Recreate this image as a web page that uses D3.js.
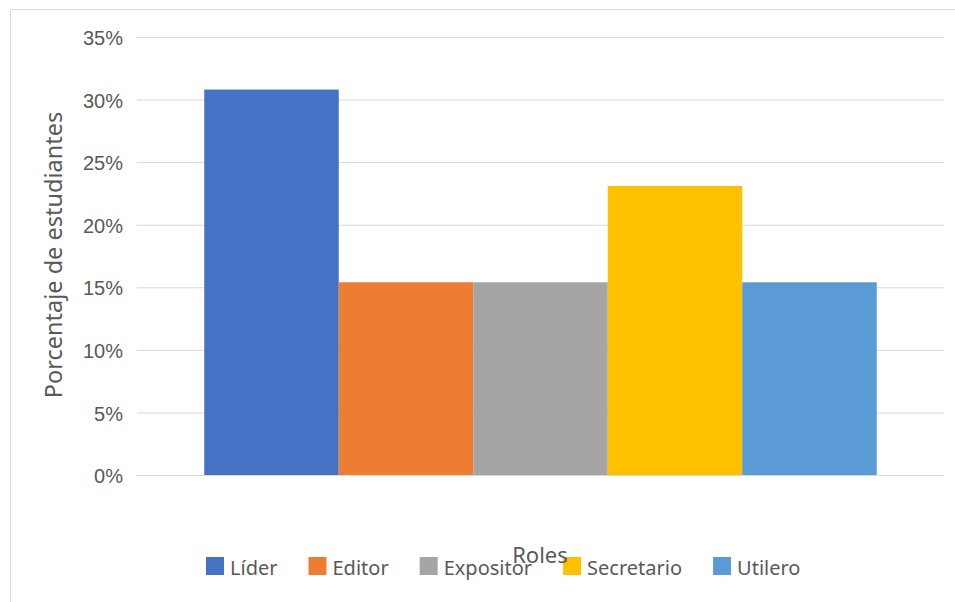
<!DOCTYPE html>
<html>
<head>
<meta charset="utf-8">
<script src="https://cdn.jsdelivr.net/npm/d3@7"></script>
<style>
  html, body { margin: 0; padding: 0; background: #fff; }
  svg { display: block; font-family: "Noto Sans", sans-serif; }
</style>
</head>
<body>
<div class="graph"></div>
<script>
// Data
const roles = ['Líder', 'Editor', 'Expositor', 'Secretario', 'Utilero'];
const shares = [0.308, 0.154, 0.154, 0.231, 0.154];
const tickValues = [0, 0.05, 0.10, 0.15, 0.20, 0.25, 0.30, 0.35];
const colors = ['#4472C4', '#ED7D31', '#A5A5A5', '#FFC000', '#5B9BD5'];

const W = 955, H = 602;
const plot = { left: 137, right: 944, top: 37, bottom: 475 };

const svg = d3.select('.graph')
    .append('svg')
    .attr('width', W)
    .attr('height', H);

// Chart frame (only top and left edges are visible in the crop)
svg.append('path')
    .attr('d', `M10.5,${H} L10.5,9.5 L${W},9.5`)
    .attr('fill', 'none')
    .attr('stroke', '#d9d9d9')
    .attr('stroke-width', 1);

// Scales
const yScale = d3.scaleLinear()
    .domain([0, 0.35])
    .range([plot.bottom, plot.top]);

const xScale = d3.scaleBand()
    .domain(roles)
    .range([plot.left, plot.right])
    .paddingInner(0)
    .paddingOuter(0.5);

// Gridlines + tick labels via axis
const yAxis = d3.axisLeft(yScale)
    .tickValues(tickValues)
    .tickFormat(d3.format('.0%'))
    .tickSize(-(plot.right - plot.left))
    .tickPadding(14);

const gy = svg.append('g')
    .attr('transform', `translate(${plot.left},0)`)
    .call(yAxis);

gy.select('.domain').remove();
gy.selectAll('.tick line')
    .attr('stroke', '#d9d9d9')
    .attr('stroke-width', 1);
gy.selectAll('.tick text')
    .attr('fill', '#595959')
    .attr('font-size', 20)
    .attr('dy', '0.38em');

// Bars
svg.selectAll('.bar')
    .data(roles)
    .enter()
    .append('rect')
    .attr('class', 'bar')
    .attr('x', d => xScale(d))
    .attr('y', (d, i) => yScale(shares[i]))
    .attr('width', xScale.bandwidth())
    .attr('height', (d, i) => yScale(0) - yScale(shares[i]))
    .attr('fill', (d, i) => colors[i]);

// Y title
svg.append('text')
    .attr('transform', 'translate(62,255) rotate(-90)')
    .attr('text-anchor', 'middle')
    .attr('font-size', 23.5)
    .attr('fill', '#595959')
    .text('Porcentaje de estudiantes');

// Legend
const legend = svg.append('g');
let lx = 206;
roles.forEach((r, i) => {
    const item = legend.append('g');
    item.append('rect')
        .attr('x', lx)
        .attr('y', 557)
        .attr('width', 18)
        .attr('height', 18)
        .attr('fill', colors[i]);
    const t = item.append('text')
        .attr('x', lx + 24)
        .attr('y', 575)
        .attr('font-size', 20)
        .attr('fill', '#595959')
        .text(r);
    lx += 24 + t.node().getComputedTextLength() + 31;
});

// X title (drawn after the legend, overlapping it like the original)
svg.append('text')
    .attr('x', 540)
    .attr('y', 563)
    .attr('text-anchor', 'middle')
    .attr('font-size', 22)
    .attr('fill', '#595959')
    .text('Roles');
</script>
</body>
</html>
